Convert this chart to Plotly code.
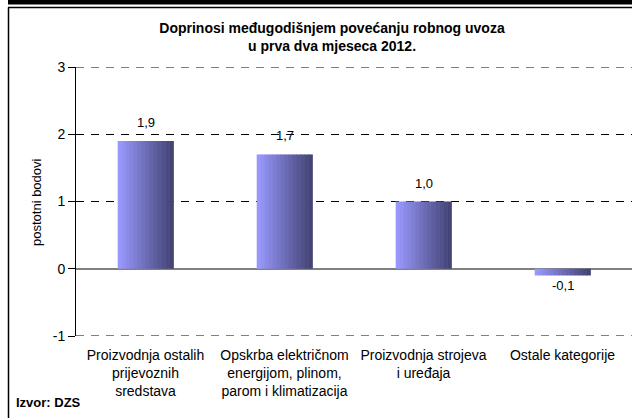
import plotly.graph_objects as go

# data
categories = [
    "Proizvodnja ostalih<br>prijevoznih<br>sredstava",
    "Opskrba električnom<br>energijom, plinom,<br>parom i klimatizacija",
    "Proizvodnja strojeva<br>i uređaja",
    "Ostale kategorije",
]
values = [1.9, 1.7, 1.0, -0.1]
y_ticks = [-1, 0, 1, 2, 3]

title_text = "<b>Doprinosi međugodišnjem povećanju robnog uvoza<br>u prva dva mjeseca 2012.</b>"
y_title = "postotni bodovi"
source = "<b>Izvor: DZS</b>"

FONT = "Liberation Sans, Arial, sans-serif"

# plot area in pixels, used to place decorations in paper coords
L, R, T, B = 76, 632, 67, 336
W, H = R - L, B - T


def px_x(p):
    return (p - L) / W


def px_y(q):
    return (B - q) / H


def mix(c1, c2, t):
    return "rgb(%d,%d,%d)" % tuple(round(a + (b - a) * t) for a, b in zip(c1, c2))


fig = go.Figure()

# fake the left-to-right gradient with thin overlaid slices
n_slices = 14
bar_w = 0.4
light, dark = (152, 152, 252), (68, 68, 118)
for i in range(n_slices):
    fig.add_trace(go.Bar(
        x=categories, y=values,
        width=bar_w / n_slices + 0.004,
        offset=-bar_w / 2 + i * bar_w / n_slices,
        marker=dict(color=mix(light, dark, i / (n_slices - 1)), line=dict(width=0)),
        hoverinfo="skip", showlegend=False,
    ))

# value labels sit a little off the bar ends
labels = []
for cat, v in zip(categories, values):
    labels.append(dict(
        x=cat, y=v, xref="x", yref="y", showarrow=False,
        text=f"{v:.1f}".replace(".", ","),
        yanchor="bottom" if v >= 0 else "top",
        yshift=9 if v >= 0 else -1,
        font=dict(size=13, family=FONT, color="black"),
    ))

shapes = [
    # thick black band at the very top
    dict(type="rect", xref="paper", yref="paper",
         x0=px_x(8), x1=px_x(640), y0=px_y(4.5), y1=px_y(-2),
         fillcolor="black", line=dict(width=0), layer="above"),
    # frame top and left
    dict(type="line", xref="paper", yref="paper",
         x0=px_x(8), x1=px_x(640), y0=px_y(7.5), y1=px_y(7.5),
         line=dict(color="black", width=1.5)),
    dict(type="line", xref="paper", yref="paper",
         x0=px_x(8.5), x1=px_x(8.5), y0=px_y(7.5), y1=px_y(425),
         line=dict(color="black", width=1.5)),
]
# gridlines at the range ends, which plotly leaves out
for v in (y_ticks[0], y_ticks[-1]):
    shapes.append(dict(type="line", xref="paper", yref="y", x0=0, x1=1, y0=v, y1=v,
                       line=dict(color="black", width=1, dash="8px,7px"), layer="below"))

fig.update_layout(
    width=632, height=418,
    margin=dict(l=L, r=632 - R, t=T, b=418 - B),
    paper_bgcolor="white", plot_bgcolor="white",
    barmode="overlay", bargap=0.6,
    font=dict(family=FONT, size=14, color="black"),
    title=dict(text=title_text, x=332 / 632, xanchor="center",
               xref="container", yref="container", y=1 - 33 / 418, yanchor="top",
               font=dict(size=14, family=FONT, color="black")),
    xaxis=dict(showgrid=False, showline=False, ticks="",
               tickfont=dict(size=14, family=FONT), ticklabelstandoff=9),
    yaxis=dict(range=[-1, 3], tickvals=y_ticks, ticktext=[str(v) for v in y_ticks],
               showgrid=True, gridcolor="black", gridwidth=1, griddash="8px,7px",
               zeroline=True, zerolinecolor="#808080", zerolinewidth=2,
               showline=True, linecolor="black", linewidth=1,
               ticks="outside", ticklen=7, tickcolor="black",
               tickfont=dict(size=14, family=FONT)),
    shapes=shapes,
    annotations=labels + [
        dict(text=y_title, textangle=-90, xref="paper", yref="paper",
             x=px_x(36), xanchor="center", y=px_y(202), showarrow=False,
             font=dict(size=13, family=FONT)),
        dict(text=source, xref="paper", yref="paper", xanchor="left",
             x=px_x(14), y=px_y(412), showarrow=False,
             font=dict(size=13, family=FONT)),
    ],
)

# drop the page margin so the 632x418 figure fills the window exactly
fig.write_html("out.html", config={"displayModeBar": False}, post_script=(
    "document.body.style.margin='0';"
    "document.body.style.overflow='hidden';"
))
